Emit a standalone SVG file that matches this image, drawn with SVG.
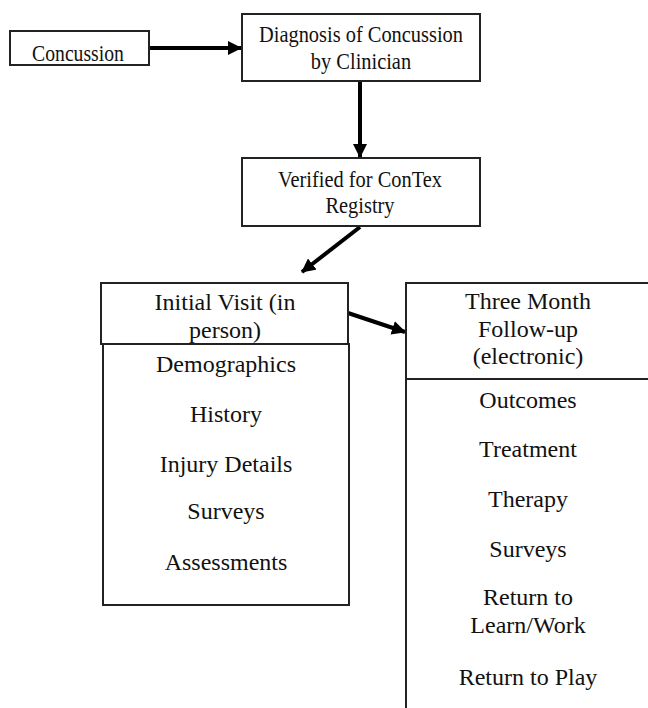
<svg xmlns="http://www.w3.org/2000/svg" width="648" height="708" viewBox="0 0 648 708">
<style>
.box{fill:#fff;stroke:#222;stroke-width:2}
.t{font-family:"Liberation Serif","Times New Roman",serif;font-size:24px;fill:#111;text-anchor:middle}
.c{stroke:#000;stroke-width:4;fill:none}
</style>
<defs>
<marker id="ah" markerUnits="userSpaceOnUse" markerWidth="14" markerHeight="14" viewBox="0 0 14 14" refX="13" refY="7" orient="auto">
<path d="M0,0 L14,7 L0,14 Z" fill="#000"/>
</marker>
</defs>
<rect width="648" height="708" fill="#fff"/>
<g id="connectors">
<line class="c" x1="149" y1="48" x2="241" y2="48" marker-end="url(#ah)"/>
<line class="c" x1="360" y1="81" x2="360" y2="157" marker-end="url(#ah)"/>
<line class="c" x1="360" y1="227" x2="302" y2="272" marker-end="url(#ah)"/>
<line class="c" x1="348" y1="313" x2="405" y2="332" marker-end="url(#ah)"/>
</g>
<g id="concussion">
<rect class="box" x="10" y="31" width="139" height="34"/>
<g transform="translate(78 0) scale(0.82 1)">
<text class="t" x="0" y="61">Concussion</text>
</g>
</g>
<g id="diagnosis">
<rect class="box" x="242" y="14" width="238" height="67"/>
<g transform="translate(361 0) scale(0.85 1)">
<text class="t" x="0" y="42">Diagnosis of Concussion</text>
<text class="t" x="0" y="69">by Clinician</text>
</g>
</g>
<g id="verified">
<rect class="box" x="242" y="158" width="238" height="68"/>
<g transform="translate(360 0) scale(0.85 1)">
<text class="t" x="0" y="187">Verified for ConTex</text>
<text class="t" x="0" y="213">Registry</text>
</g>
</g>
<g id="initial-visit">
<rect class="box" x="101" y="283" width="247" height="61"/>
<text class="t" x="225" y="310">Initial Visit (in</text>
<text class="t" x="225" y="338">person)</text>
<rect class="box" x="103" y="344" width="246" height="261"/>
<text class="t" x="226" y="372">Demographics</text>
<text class="t" x="226" y="422">History</text>
<text class="t" x="226" y="472">Injury Details</text>
<text class="t" x="226" y="519">Surveys</text>
<text class="t" x="226" y="570">Assessments</text>
</g>
<g id="three-month">
<rect class="box" x="406" y="283" width="250" height="96"/>
<text class="t" x="528" y="309">Three Month</text>
<text class="t" x="528" y="337">Follow-up</text>
<text class="t" x="528" y="364">(electronic)</text>
<rect class="box" x="406" y="379" width="250" height="340"/>
<text class="t" x="528" y="408">Outcomes</text>
<text class="t" x="528" y="457">Treatment</text>
<text class="t" x="528" y="507">Therapy</text>
<text class="t" x="528" y="557">Surveys</text>
<text class="t" x="528" y="605">Return to</text>
<text class="t" x="528" y="633">Learn/Work</text>
<text class="t" x="528" y="685">Return to Play</text>
</g>
</svg>
